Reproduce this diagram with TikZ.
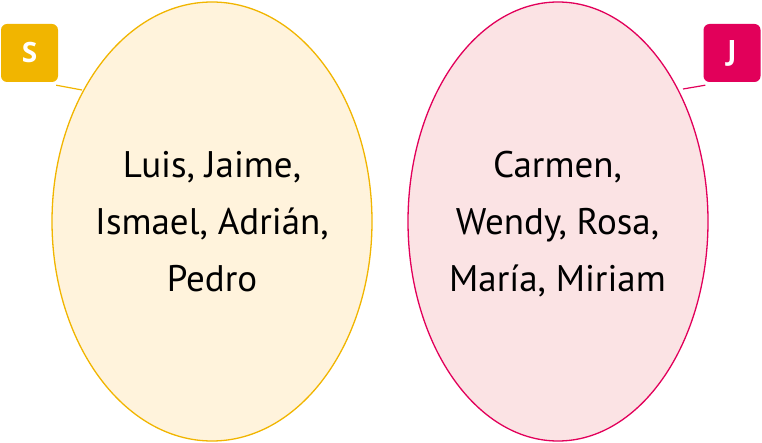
\documentclass[tikz,border=0pt]{standalone}
\usepackage{fontspec}
\setmainfont{PT Sans}
\newfontfamily\tagfont{Open Sans}
\definecolor{sgold}{HTML}{F1B500}
\definecolor{sfill}{HTML}{FFF3DC}
\definecolor{jred}{HTML}{E2005A}
\definecolor{jfill}{HTML}{FBE3E4}
\begin{document}
\begin{tikzpicture}[x=1pt,y=-1pt,
  tagbox/.style={rounded corners=6pt, minimum width=57pt, minimum height=58pt, inner sep=0pt, text=white, font=\tagfont\bfseries\fontsize{28}{32}\selectfont},
  namestyle/.style={anchor=base, inner sep=0pt, font=\fontsize{37}{42}\selectfont},
  link/.style={line width=1.2pt}]
\useasboundingbox (0,0) rectangle (762,443);
\draw[draw=sgold, fill=sfill, line width=1.3pt] (212,221.5) ellipse [x radius=160, y radius=219.5];
\draw[draw=jred, fill=jfill, line width=1.3pt] (558,221.5) ellipse [x radius=150, y radius=219.5];
\coordinate (sE) at (82,90);
\coordinate (jE) at (683,89);
\node[tagbox, fill=sgold] (S) at (29.5,53) {S};
\node[tagbox, fill=jred] (J) at (732,53) {J};
\draw[link, draw=sgold] (S.south east) ++(-2pt,-3pt) coordinate (sA) -- (sE);
\draw[link, draw=jred] (J.south west) ++(2pt,-3pt) coordinate (jA) -- (jE);
\node[namestyle] (s1) at (212,178) {Luis, Jaime,};
\node[namestyle] (s2) at (212,234.5) {Ismael, Adrián,};
\node[namestyle] (s3) at (212,291.5) {Pedro};
\node[namestyle] (j1) at (557.5,177.5) {Carmen,};
\node[namestyle] (j2) at (557.5,234.5) {Wendy, Rosa,};
\node[namestyle] (j3) at (557.5,291.5) {María, Miriam};
\end{tikzpicture}
\end{document}
